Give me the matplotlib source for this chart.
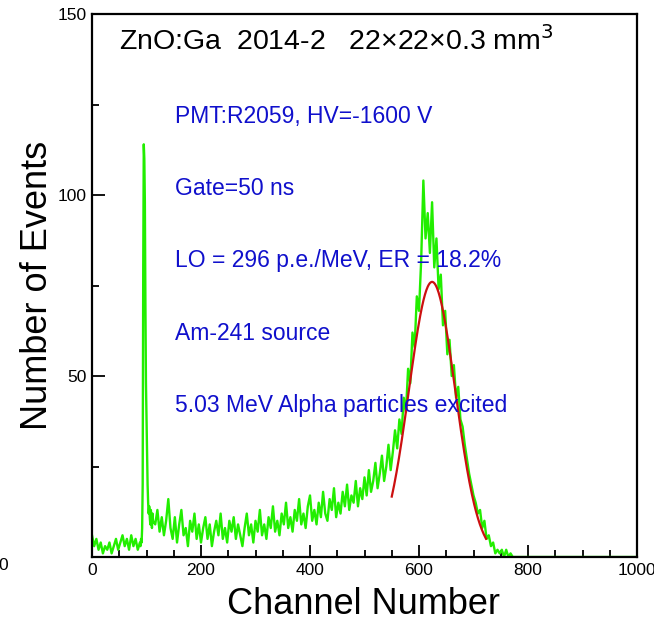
import numpy as np
import matplotlib
matplotlib.use("Agg")
import matplotlib.pyplot as plt
from matplotlib.ticker import MultipleLocator, FixedLocator

plt.rcParams["font.family"] = ["Liberation Sans", "DejaVu Sans"]

# --- spectre (canaux, coups) ---
ch_low = [0, 4, 8, 12, 16, 20, 24, 28, 32, 36, 40, 44, 48, 52, 56, 60, 64, 68, 72, 76, 80, 84, 88]
cnt_low = [6, 3, 5, 2, 4, 1, 3, 2, 4, 1, 3, 5, 2, 4, 6, 3, 5, 2, 6, 3, 5, 2, 4]

ch_pic = list(range(89, 113))
cnt_pic = [3, 5, 4, 8, 20, 80, 114, 110, 98, 70, 48, 38, 28, 20, 15, 12,
           14, 11, 9, 13, 11, 8, 12, 10]

ch_main = list(range(116, 776, 4))
cnt_main = [
    9, 13, 7, 11, 6, 10, 16, 8, 5, 11, 4, 9, 13, 6, 8, 3, 10, 7, 12, 5,      # 116-192
    9, 4, 8, 11, 5, 9, 3, 7, 10, 6, 12, 5, 8, 4, 10, 7, 11, 5, 9, 6,         # 196-272
    3, 8, 12, 6, 9, 4, 10, 7, 13, 6, 9, 5, 11, 8, 14, 7, 10, 6, 12, 9,       # 276-352
    15, 8, 11, 7, 13, 10, 16, 9, 12, 8, 14, 17, 10, 13, 9, 15, 11, 18, 12, 10,  # 356-432
    16, 13, 19, 11, 15, 12, 18, 14, 20, 13, 17, 15, 21, 14, 19, 16, 22, 17, 24, 18,  # 436-512
    21, 26, 19, 23, 28, 21, 25, 31, 24, 29, 35, 30, 38, 34, 44, 40, 52, 48, 62, 58,  # 516-592
    72, 68, 82, 104, 88, 95, 84, 98, 80, 88, 74, 78, 64, 68, 56, 60, 50, 53, 44, 47,  # 596-672
    38, 36, 31, 27, 23, 20, 17, 15, 12, 13, 8, 10, 5, 6, 3, 4, 1, 2, 1, 2,   # 676-752
    0, 2, 0, 1, 0,                                                           # 756-772
]
ch_end = [1000]
cnt_end = [0]

channels = np.array(ch_low + ch_pic + ch_main + ch_end)
counts = np.array(cnt_low + cnt_pic + cnt_main + cnt_end)

fit_amp, fit_mu, fit_sigma = 76.0, 624.0, 42.5
fit_lo, fit_hi = 550, 723

title = "ZnO:Ga  2014-2   22\u00d722\u00d70.3 mm$^3$"
notes = ["PMT:R2059, HV=-1600 V", "Gate=50 ns", "LO = 296 p.e./MeV, ER = 18.2%",
         "Am-241 source", "5.03 MeV Alpha particles excited"]
notes_y = [120, 100, 80, 60, 40]

fig = plt.figure(figsize=(6.54, 6.24), dpi=100)
ax = fig.add_axes([92 / 654, 67 / 624, 545 / 654, 543 / 624])

ax.plot(channels, counts, color="#22ee00", lw=1.7, zorder=2)
xf = np.linspace(fit_lo, fit_hi, 200)
ax.plot(xf, fit_amp * np.exp(-(xf - fit_mu) ** 2 / (2 * fit_sigma ** 2)),
        color="#cc1010", lw=1.6, zorder=3)

ax.set_xlim(0, 1000)
ax.set_ylim(0, 150)
ax.xaxis.set_major_locator(MultipleLocator(200))
ax.xaxis.set_minor_locator(MultipleLocator(50))
ax.yaxis.set_major_locator(FixedLocator([0, 50, 100, 150]))
ax.yaxis.set_minor_locator(MultipleLocator(25))
ax.set_yticklabels(["", "50", "100", "150"])
ax.tick_params(which="both", direction="in", width=1.3, labelsize=12.5, pad=4)
ax.tick_params(which="major", length=9)
ax.tick_params(which="minor", length=5)
for s in ax.spines.values():
    s.set_linewidth(1.6)

ax.set_xlabel("Channel Number", fontsize=26)
ax.set_ylabel("Number of Events", fontsize=26)
ax.xaxis.set_label_coords(0.499, -0.056)
ax.yaxis.set_label_coords(-0.068, 0.5)

ax.text(50, 140, title, fontsize=20.5, va="baseline", ha="left")
for t, yv in zip(notes, notes_y):
    ax.text(152, yv, t, fontsize=16.5, color="#1010cc", va="baseline", ha="left")

# le "0" de l'axe y est décalé à gauche sur l'original
fig.text(3 / 654, 1 - 565 / 624, "0", fontsize=12.5, ha="center", va="center")

fig.savefig("out.png", dpi=100)
